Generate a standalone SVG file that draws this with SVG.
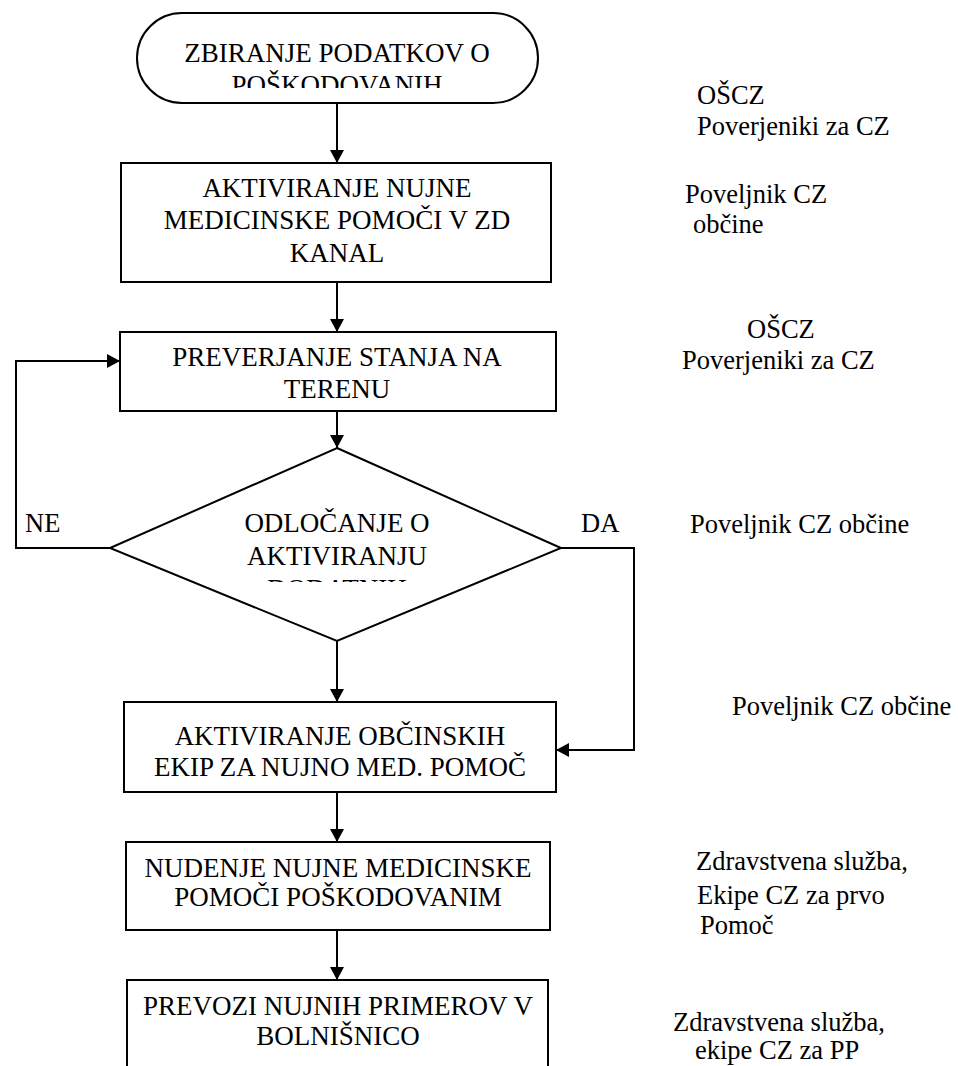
<svg xmlns="http://www.w3.org/2000/svg" width="958" height="1066" viewBox="0 0 958 1066">
<style>
.n{fill:#fff;stroke:#000;stroke-width:2}
.c{fill:none;stroke:#000;stroke-width:2}
</style>
<defs>
<marker id="ah" markerWidth="14" markerHeight="14" refX="13" refY="7" orient="auto" markerUnits="userSpaceOnUse">
<path d="M0,0 L13,7 L0,14 Z" fill="#000"/>
</marker>
<clipPath id="c1"><rect x="140" y="20" width="400" height="68"/></clipPath>
<clipPath id="c2"><rect x="150" y="500" width="380" height="82"/></clipPath>
</defs>
<rect width="958" height="1066" fill="#fff"/>
<g id="connectors">
<line class="c" x1="337" y1="103" x2="337" y2="163" marker-end="url(#ah)"/>
<line class="c" x1="337" y1="282" x2="337" y2="332" marker-end="url(#ah)"/>
<line class="c" x1="337" y1="411" x2="337" y2="448" marker-end="url(#ah)"/>
<polyline class="c" points="110,548 16,548 16,361 120,361" marker-end="url(#ah)"/>
<polyline class="c" points="561,548 634,548 634,750 556,750" marker-end="url(#ah)"/>
<line class="c" x1="337" y1="641" x2="337" y2="702" marker-end="url(#ah)"/>
<line class="c" x1="337" y1="792" x2="337" y2="842" marker-end="url(#ah)"/>
<line class="c" x1="337" y1="930" x2="337" y2="980" marker-end="url(#ah)"/>
</g>
<g font-family="Liberation Serif, Times New Roman, serif" font-size="27" fill="#000" text-anchor="middle">
<g id="start">
<rect class="n" x="137" y="13" width="401" height="90" rx="45" ry="45"/>
<g clip-path="url(#c1)">
<text x="337" y="62">ZBIRANJE PODATKOV O</text>
<text x="337" y="94">POŠKODOVANIH</text>
</g>
</g>
<g id="box2">
<rect class="n" x="121" y="163" width="430" height="119"/>
<text x="337" y="197">AKTIVIRANJE NUJNE</text>
<text x="337" y="229">MEDICINSKE POMOČI V ZD</text>
<text x="337" y="262">KANAL</text>
</g>
<g id="box3">
<rect class="n" x="120" y="332" width="436" height="79"/>
<text x="337" y="366">PREVERJANJE STANJA NA</text>
<text x="337" y="398">TERENU</text>
</g>
<g id="decision">
<polygon class="n" points="337,448 561,548 337,641 110,548"/>
<g clip-path="url(#c2)">
<text x="337" y="532">ODLOČANJE O</text>
<text x="337" y="565">AKTIVIRANJU</text>
<text x="337" y="598">DODATNIH</text>
</g>
</g>
<g id="box4">
<rect class="n" x="124" y="702" width="432" height="90"/>
<text x="340" y="745">AKTIVIRANJE OBČINSKIH</text>
<text x="340" y="776">EKIP ZA NUJNO MED. POMOČ</text>
</g>
<g id="box5">
<rect class="n" x="126" y="842" width="424" height="88"/>
<text x="338" y="877">NUDENJE NUJNE MEDICINSKE</text>
<text x="338" y="906">POMOČI POŠKODOVANIM</text>
</g>
<g id="box6">
<path class="c" d="M127,1066 V980 H548 V1066"/>
<text x="338" y="1015">PREVOZI NUJNIH PRIMEROV V</text>
<text x="338" y="1045">BOLNIŠNICO</text>
</g>
</g>
<g font-family="Liberation Serif, Times New Roman, serif" font-size="26.5" fill="#000">
<g id="labels">
<text x="25" y="532">NE</text>
<text x="581" y="532">DA</text>
</g>
<g id="roles">
<text x="697" y="104">OŠCZ</text>
<text x="697" y="135">Poverjeniki za CZ</text>
<text x="685" y="203">Poveljnik CZ</text>
<text x="693" y="233">občine</text>
<text x="747" y="338">OŠCZ</text>
<text x="682" y="369">Poverjeniki za CZ</text>
<text x="690" y="533">Poveljnik CZ občine</text>
<text x="732" y="715">Poveljnik CZ občine</text>
<text x="696" y="870">Zdravstvena služba,</text>
<text x="697" y="904">Ekipe CZ za prvo</text>
<text x="700" y="934">Pomoč</text>
<text x="673" y="1031">Zdravstvena služba,</text>
<text x="695" y="1059">ekipe CZ za PP</text>
</g>
</g>
</svg>
